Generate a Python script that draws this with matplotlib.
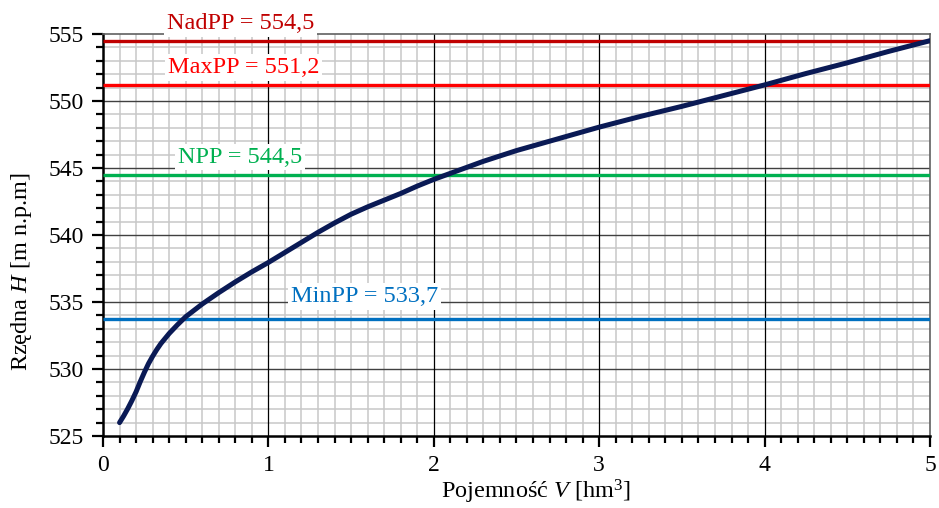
import matplotlib
matplotlib.use("Agg")
import matplotlib.pyplot as plt
from matplotlib.ticker import MultipleLocator

plt.rcParams['font.family'] = ['Liberation Serif', 'DejaVu Serif']
plt.rcParams['mathtext.fontset'] = 'custom'
plt.rcParams['mathtext.rm'] = 'Liberation Serif'
plt.rcParams['mathtext.it'] = 'Liberation Serif:italic'

# Curve H(V)
V = [0.1, 0.125, 0.15, 0.175, 0.2, 0.225, 0.25, 0.275, 0.3, 0.325, 0.35, 0.4,
     0.45, 0.5, 0.6, 0.7, 0.8, 0.9, 1.0, 1.1, 1.2, 1.3, 1.4, 1.5, 1.6, 1.7,
     1.8, 1.9, 2.0, 2.1, 2.2, 2.3, 2.4, 2.5, 2.6, 2.7, 2.8, 2.9, 3.0, 3.25,
     3.5, 3.75, 4.0, 4.25, 4.5, 4.75, 5.0]
H = [526.0, 526.5, 527.05, 527.65, 528.3, 529.05, 529.75, 530.4, 530.95,
     531.45, 531.9, 532.65, 533.3, 533.9, 534.85, 535.7, 536.5, 537.25,
     537.95, 538.7, 539.45, 540.2, 540.9, 541.55, 542.1, 542.6, 543.1,
     543.65, 544.15, 544.6, 545.05, 545.5, 545.9, 546.3, 546.65, 547.0,
     547.35, 547.7, 548.05, 548.85, 549.6, 550.4, 551.2, 552.05, 552.85,
     553.7, 554.5]

# Reference levels
level_values = [554.5, 551.2, 544.5, 533.7]
level_labels = ["NadPP = 554,5", "MaxPP = 551,2", "NPP = 544,5", "MinPP = 533,7"]
level_colors = ["#C00000", "#FF0000", "#00B050", "#0070C0"]
label_x = [0.83, 0.85, 0.83, 1.58]
label_y = [555.75, 552.5, 545.8, 535.4]

fig = plt.figure(figsize=(9.39, 5.08), dpi=100)
ax = fig.add_axes([0.1097, 0.1417, 0.8807, 0.7914])
ax.set_xlim(0, 5)
ax.set_ylim(525, 555)

ax.xaxis.set_major_locator(MultipleLocator(1))
ax.xaxis.set_minor_locator(MultipleLocator(0.1))
ax.yaxis.set_major_locator(MultipleLocator(5))
ax.yaxis.set_minor_locator(MultipleLocator(1))

ax.grid(which='minor', color='#c8c8c8', linewidth=1.1)
ax.set_axisbelow(True)
for yv in ax.get_yticks():
    if 525 < yv < 555:
        ax.axhline(yv, color='#404040', linewidth=1.0, zorder=1)
for xv in ax.get_xticks():
    if 0 < xv < 5:
        ax.axvline(xv, color='#000000', linewidth=0.9, zorder=1.1)

for s in ['top', 'right']:
    ax.spines[s].set_color('#606060')
    ax.spines[s].set_linewidth(1.2)
for s in ['left', 'bottom']:
    ax.spines[s].set_color('black')
    ax.spines[s].set_linewidth(1.8)

ax.tick_params(which='major', direction='out', length=8, width=1.6, labelsize=17, pad=6)
ax.tick_params(which='minor', direction='out', length=5, width=1.6)

for v, c in zip(level_values, level_colors):
    ax.plot([0, 5], [v, v], color=c, linewidth=2.4, zorder=3, solid_capstyle='butt')

ax.plot(V, H, color='#0A1A55', linewidth=3.6, zorder=4, clip_on=True,
        solid_capstyle='round', solid_joinstyle='round')

for t, x, y, c in zip(level_labels, label_x, label_y, level_colors):
    ax.text(x, y, t, color=c, fontsize=17.5, ha='center', va='center', zorder=6,
            clip_on=False,
            bbox=dict(facecolor='white', edgecolor='none', pad=2.0))

ax.set_xlabel(r"Pojemność $V$ [hm$^3$]", fontsize=17.5)
ax.set_ylabel(r"Rzędna $H$ [m n.p.m]", fontsize=17.5)
ax.xaxis.set_label_coords(0.524, -0.105)
ax.yaxis.set_label_coords(-0.083, 0.41)

fig.savefig("out.png", dpi=100)
